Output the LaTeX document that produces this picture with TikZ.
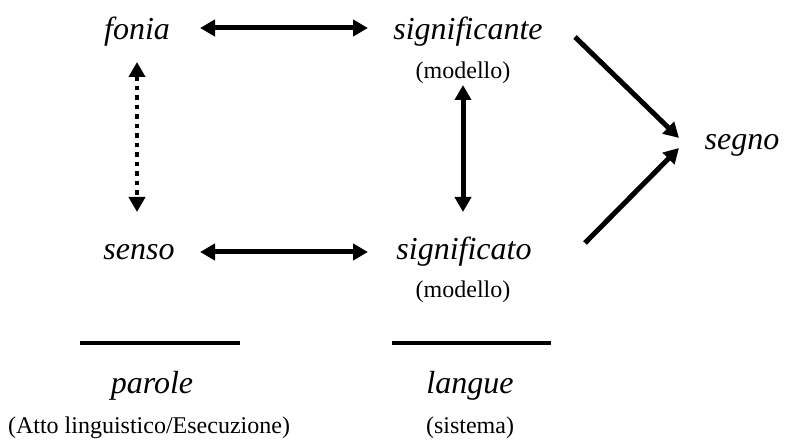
\documentclass[tikz,border=0pt]{standalone}
\usepackage{fontspec}
\setmainfont{Liberation Serif}
\usetikzlibrary{arrows.meta}
\begin{document}
\begin{tikzpicture}[x=1pt,y=-1pt,
  term/.style={inner sep=0pt,anchor=base,font=\fontsize{32}{36}\selectfont\itshape},
  note/.style={inner sep=0pt,anchor=base,font=\fontsize{24}{28}\selectfont},
  tip/.style={Triangle[length=15pt,width=16pt]},
  link/.style={line width=5pt,{Triangle[length=15pt,width=16pt]}-{Triangle[length=15pt,width=16pt]}},
  oneway/.style={line width=5pt,-{Triangle[length=15pt,width=16pt]}},
  dotlink/.style={link,line width=4.5pt,dash pattern=on 4.5pt off 5pt},
  bar/.style={line width=4pt}]
\useasboundingbox (0,0) rectangle (785,446);
% terms
\node[term] (fonia) at (137,40) {fonia};
\node[term] (sgnte) at (468,40) {significante};
\node[note] (modA) at (463,79) {(modello)};
\node[term] (segno) at (742,150) {segno};
\node[term] (senso) at (139,260) {senso};
\node[term] (sgnto) at (464,260) {significato};
\node[note] (modB) at (463,298) {(modello)};
\node[term] (parole) at (152,394) {parole};
\node[note] (atto) at (149,433) {(Atto linguistico/Esecuzione)};
\node[term] (langue) at (470,394) {langue};
\node[note] (sist) at (470,433) {(sistema)};
% arrow end points
\coordinate (fR) at (200,28);
\coordinate (sL) at (368,28);
\coordinate (fD) at (137,62);
\coordinate (nU) at (137,212);
\coordinate (nR) at (200,252);
\coordinate (gL) at (368,252);
\coordinate (sD) at (463,85);
\coordinate (gU) at (463,212);
\coordinate (sO) at (575,37);
\coordinate (gO) at (585,243);
\coordinate (segA) at (679,138);
\coordinate (segB) at (679,148);
\coordinate (p1) at (80,343);
\coordinate (p2) at (240,343);
\coordinate (l1) at (392,343);
\coordinate (l2) at (551,343);
% connectors
\draw[link] (fR) -- (sL);
\draw[link] (nR) -- (gL);
\draw[dotlink] (fD) -- (nU);
\draw[link] (sD) -- (gU);
\draw[oneway] (sO) -- (segA);
\draw[oneway] (gO) -- (segB);
\draw[bar] (p1) -- (p2);
\draw[bar] (l1) -- (l2);
\end{tikzpicture}
\end{document}
